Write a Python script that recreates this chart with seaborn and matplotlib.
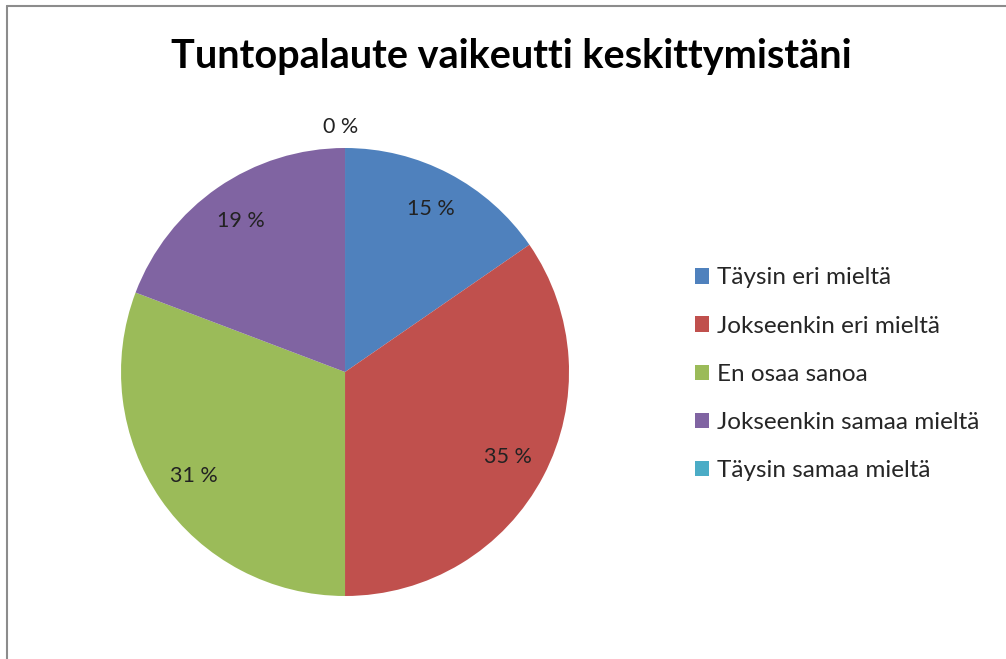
import matplotlib
matplotlib.use("Agg")
import matplotlib.pyplot as plt
from matplotlib.lines import Line2D
import seaborn as sns

# answers (count of respondents)
categories = ["Täysin eri mieltä", "Jokseenkin eri mieltä", "En osaa sanoa",
              "Jokseenkin samaa mieltä", "Täysin samaa mieltä"]
counts = [4, 9, 8, 5, 0]
colors = ["#4F81BD", "#C0504D", "#9BBB59", "#8064A2", "#4BACC6"]
title = "Tuntopalaute vaikeutti keskittymistäni"

sns.set_theme(style="white")
plt.rcParams['font.family'] = ['Lato', 'DejaVu Sans']

fig = plt.figure(figsize=(10.06, 6.59), dpi=100)
ax = fig.add_axes([0.1203, 0.0956, 448 / 1006, 448 / 659])

wedges, texts, autotexts = ax.pie(
    counts, colors=sns.color_palette(colors), startangle=90, counterclock=False,
    autopct=lambda p: f"{p:.0f} %", pctdistance=0.82, radius=1,
    wedgeprops=dict(linewidth=0), textprops=dict(fontsize=15.5, color="#222222"))

# zero slice label sits just outside the pie top
for c, t in zip(counts, autotexts):
    if c == 0:
        t.set_position((-0.02, 1.095))

ax.set_xlim(-1, 1)
ax.set_ylim(-1, 1)
ax.set_aspect("equal")

fig.text(0.508, 0.915, title, ha="center", va="center",
         fontsize=28.5, fontweight="bold", color="black")

ax.legend(wedges, categories, loc="center left",
          bbox_to_anchor=(0.681, 0.432), bbox_transform=fig.transFigure,
          frameon=False, fontsize=17.5, handlelength=0.6, handleheight=0.6,
          handletextpad=0.3, labelspacing=1.12, borderaxespad=0)

# chart-area frame (only top and left edges visible)
fig.add_artist(Line2D([0.0065, 1.0], [1 - 6 / 659, 1 - 6 / 659],
                      transform=fig.transFigure, color="#8c8c8c", lw=1.5))
fig.add_artist(Line2D([0.0065, 0.0065], [0.0, 1 - 6 / 659],
                      transform=fig.transFigure, color="#8c8c8c", lw=1.5))

fig.savefig("out.png", dpi=100)
